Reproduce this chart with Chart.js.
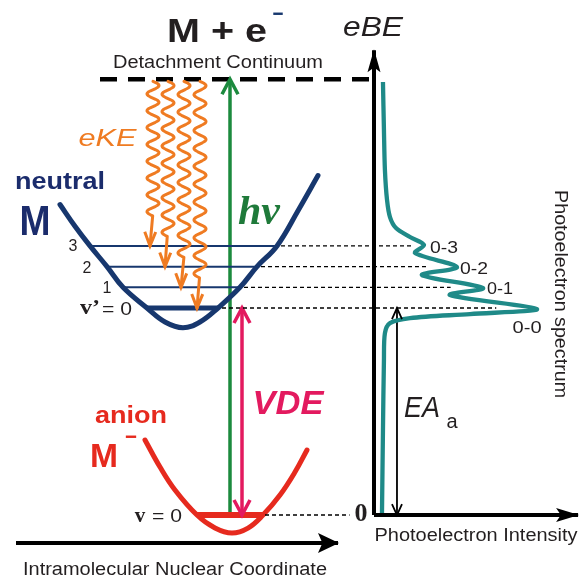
<!DOCTYPE html>
<html><head><meta charset="utf-8">
<script src="https://cdn.jsdelivr.net/npm/chart.js@4.4.1/dist/chart.umd.min.js"></script>
<style>html,body{margin:0;padding:0;background:#fff;overflow:hidden}canvas{display:block}</style>
</head><body>
<canvas id="c" width="579" height="579"></canvas>
<script>
// ---------------- data (nuclear coordinate Q, binding energy E, intensity I) ----------------
const neutralQ = [-1.23,-1.08,-0.93,-0.76,-0.60,-0.36,-0.18,0.00,0.17,0.35,0.57,0.74,0.94,1.15,1.35];
const neutralE = [3.00,2.79,2.60,2.40,2.20,2.00,1.865,1.81,1.865,2.00,2.20,2.40,2.60,2.94,3.28];
const anionQ = [-0.38,-0.23,-0.08,0.14,0.32,0.49,0.65,0.80,0.97,1.12,1.24];
const anionE = [0.725,0.464,0.242,0.00,-0.126,-0.174,-0.126,0.00,0.193,0.415,0.628];
const levelE = [2.0, 2.2, 2.4, 2.6];              // v' = 0,1,2,3
const levelLeftQ = [-0.36, -0.60, -0.76, -0.93];
const levelRightQ = [0.35, 0.57, 0.74, 0.94];
const levelLabels = ["= 0", "1", "2", "3"];
const anionLevelE = 0;
const anionLevelQ = [0.14, 0.80];
const continuumE = 4.21;
const continuumQ = [-0.83, 1.89];
const photonQ = 0.47;
const vdeQ = 0.59;
const ekeQ = [0.14, -0.02, -0.18, -0.33];          // eKE arrows ending on v' = 0..3
const specE = [4.184,3.720,3.333,3.043,2.879,2.773,2.686,2.609,2.531,2.396,2.319,2.193,2.126,1.990,1.942,1.903,1.855,1.758,1.498,0.821,0.019];
const specI = [0.055,0.061,0.067,0.080,0.098,0.135,0.221,0.307,0.252,0.509,0.294,0.669,0.466,1.000,0.589,0.221,0.098,0.067,0.061,0.055,0.049];
const peakLabels = ["0-0","0-1","0-2","0-3"];
const dropEndI = [0.75, 0.47, 0.33, 0.23];
const anionDropEndI = -0.15;
const eaI = 0.141;
const eBEAxisTopE = 4.49;
const intAxisEndI = 1.252;
const coordAxisQ = [-1.67, 1.55];
const coordAxisE = -0.27;

// ---------------- style ----------------
const NAVY = '#17376e', NAVYTXT = '#1b2c6c', RED = '#e62a1e', GREEN = '#1c8a3e', GREENTXT = '#1f7a3a';
const MAG = '#e31a5f', ORANGE = '#ef7b22', TEAL = '#1f8a88', INK = '#231f20';
const SANS = '"Liberation Sans", Arial, sans-serif', SERIF = '"Liberation Serif", "Times New Roman", serif';

const P = (xs, ys) => xs.map((x, i) => ({x, y: ys[i]}));
const seg = (x0, y0, x1, y1) => [{x: x0, y: y0}, {x: x1, y: y1}];

function line(data, color, width, extra) {
  return Object.assign({data, borderColor: color, borderWidth: width, xAxisID: 'q', yAxisID: 'e',
    showLine: true, pointRadius: 0, tension: 0, fill: false, clip: false, borderCapStyle: 'butt', borderJoinStyle: 'round'}, extra || {});
}

const datasets = [
  line(P(specI, specE), TEAL, 4.3, {xAxisID: 'int', tension: 0.3}),
  line(seg(0, 0, 0, eBEAxisTopE), '#000', 4, {xAxisID: 'int', arrow: {at: 'end', type: 'filled', len: 22, half: 6.5}}),
  line(seg(0, 0, intAxisEndI, 0), '#000', 4, {xAxisID: 'int', arrow: {at: 'end', type: 'filled', len: 22, half: 7}}),
  line(seg(eaI, levelE[0], eaI, anionLevelE), '#000', 1.8, {xAxisID: 'int', arrow: {at: 'both', type: 'open', len: 11, half: 5, lw: 1.8}}),
  line(seg(coordAxisQ[0], coordAxisE, coordAxisQ[1], coordAxisE), '#000', 4, {arrow: {at: 'end', type: 'filled', len: 20, half: 10}}),
  line(seg(anionLevelQ[0], anionLevelE, anionLevelQ[1], anionLevelE), RED, 6),
  line(P(anionQ, anionE), RED, 5, {tension: 0.4, borderCapStyle: 'round'}),
  line(P(neutralQ, neutralE), NAVY, 5, {tension: 0.4, borderCapStyle: 'round'}),
  ...levelE.map((e, k) => line(seg(levelLeftQ[k], e, levelRightQ[k], e), NAVY, k === 0 ? 5 : 2)),
  line(seg(vdeQ, levelE[0], vdeQ, anionLevelE), MAG, 3.5, {arrow: {at: 'both', type: 'open', len: 15, half: 8, lw: 3.5}}),
  line(seg(photonQ, anionLevelE, photonQ, continuumE), GREEN, 3.5, {arrow: {at: 'end', type: 'open', len: 15, half: 8, lw: 3.5}}),
  line(seg(continuumQ[0], continuumE, continuumQ[1], continuumE), '#000', 4.5, {borderDash: [17, 11]})
];

// text labels: anchored in data units (axis 'q' or 'int'), target width w stretches glyphs
const labels = [
  {t: 'M + e', x: 0.34, y: 4.657, f: 'bold 33px ' + SANS, w: 100},
  {t: '\u2212', x: 0.95, y: 4.831, f: 'bold 22px ' + SANS, w: 11, c: NAVY},
  {t: 'Detachment Continuum', x: 0.35, y: 4.367, f: '17.5px ' + SANS, w: 210},
  {t: 'eKE', x: -0.755, y: 3.623, f: 'italic 23px ' + SANS, w: 58, c: ORANGE},
  {t: 'neutral', x: -1.23, y: 3.217, f: 'bold 24px ' + SANS, w: 90, c: NAVYTXT},
  {t: 'M', x: -1.48, y: 2.821, f: 'bold 42px ' + SANS, w: 31, c: NAVYTXT},
  {t: levelLabels[3], x: -1.10, y: 2.589, f: '16px ' + SANS},
  {t: levelLabels[2], x: -0.96, y: 2.377, f: '16px ' + SANS},
  {t: levelLabels[1], x: -0.76, y: 2.184, f: '16px ' + SANS},
  {t: 'v\u2019', x: -0.93, y: 1.990, f: 'bold 21px ' + SERIF, w: 20},
  {t: levelLabels[0], x: -0.66, y: 1.981, f: '17.5px ' + SANS, w: 30},
  {t: 'hv', x: 0.76, y: 2.908, f: 'bold italic 40px ' + SERIF, w: 42, c: GREENTXT},
  {t: 'VDE', x: 1.05, y: 1.063, f: 'bold italic 33px ' + SANS, w: 71, c: MAG},
  {t: 'anion', x: -0.52, y: 0.957, f: 'bold 24px ' + SANS, w: 72, c: RED},
  {t: 'M', x: -0.79, y: 0.551, f: 'bold 33px ' + SANS, w: 28, c: RED},
  {t: '\u2212', x: -0.52, y: 0.744, f: 'bold 22px ' + SANS, w: 12, c: RED},
  {t: 'v', x: -0.43, y: -0.019, f: 'bold 21px ' + SERIF},
  {t: '= 0', x: -0.16, y: -0.019, f: '17.5px ' + SANS, w: 30},
  {t: '0', a: 'int', x: -0.08, y: 0.01, f: 'bold 26px ' + SERIF},
  {t: 'Intramolecular Nuclear Coordinate', x: -0.08, y: -0.531, f: '18px ' + SANS, w: 304},
  {t: 'eBE', a: 'int', x: -0.006, y: 4.705, f: 'italic 28px ' + SANS, w: 60},
  {t: peakLabels[3], a: 'int', x: 0.429, y: 2.580, f: '17px ' + SANS, w: 28},
  {t: peakLabels[2], a: 'int', x: 0.613, y: 2.377, f: '17px ' + SANS, w: 28},
  {t: peakLabels[1], a: 'int', x: 0.773, y: 2.184, f: '17px ' + SANS, w: 26},
  {t: peakLabels[0], a: 'int', x: 0.939, y: 1.807, f: '17px ' + SANS, w: 29},
  {t: 'EA', a: 'int', x: 0.294, y: 1.024, f: 'italic 30px ' + SANS, w: 36},
  {t: 'a', a: 'int', x: 0.479, y: 0.899, f: '20px ' + SANS},
  {t: 'Photoelectron spectrum', a: 'int', x: 1.141, y: 2.135, f: '17.5px ' + SANS, w: 208, rot: Math.PI / 2},
  {t: 'Photoelectron Intensity', a: 'int', x: 0.626, y: -0.203, f: '17.5px ' + SANS, w: 203}
];

function head(ctx, tip, from, spec, color) {
  const dx = tip.x - from.x, dy = tip.y - from.y, d = Math.hypot(dx, dy) || 1;
  const ux = dx / d, uy = dy / d, nx = -uy, ny = ux;
  const bx = tip.x - ux * spec.len, by = tip.y - uy * spec.len;
  ctx.save();
  if (spec.type === 'filled') {
    ctx.fillStyle = color;
    ctx.beginPath();
    ctx.moveTo(tip.x + ux * 1, tip.y + uy * 1);
    ctx.lineTo(bx + nx * spec.half, by + ny * spec.half);
    ctx.lineTo(tip.x - ux * spec.len * 0.78, tip.y - uy * spec.len * 0.78);
    ctx.lineTo(bx - nx * spec.half, by - ny * spec.half);
    ctx.closePath();
    ctx.fill();
  } else {
    ctx.strokeStyle = color; ctx.lineWidth = spec.lw || 3; ctx.lineJoin = 'miter'; ctx.lineCap = 'butt';
    ctx.beginPath();
    ctx.moveTo(bx + nx * spec.half, by + ny * spec.half);
    ctx.lineTo(tip.x, tip.y);
    ctx.lineTo(bx - nx * spec.half, by - ny * spec.half);
    ctx.stroke();
  }
  ctx.restore();
}

const overlay = {
  id: 'overlay',
  afterDatasetsDraw(chart) {
    const ctx = chart.ctx, q = chart.scales.q, it = chart.scales.int, e = chart.scales.e;
    // arrow heads on datasets
    chart.data.datasets.forEach((ds, i) => {
      if (!ds.arrow) return;
      const pts = chart.getDatasetMeta(i).data;
      const a = pts[pts.length - 1], b = pts[pts.length - 2];
      head(ctx, {x: a.x, y: a.y}, {x: b.x, y: b.y}, ds.arrow, ds.borderColor);
      if (ds.arrow.at === 'both') head(ctx, {x: pts[0].x, y: pts[0].y}, {x: pts[1].x, y: pts[1].y}, ds.arrow, ds.borderColor);
    });
    // dashed drop lines from neutral levels to spectral peaks
    ctx.save();
    ctx.strokeStyle = '#000'; ctx.lineWidth = 1.4; ctx.setLineDash([4, 3]);
    levelE.forEach((en, k) => {
      const y = e.getPixelForValue(en);
      ctx.beginPath();
      ctx.moveTo(q.getPixelForValue(levelRightQ[k]) + 4, y);
      ctx.lineTo(it.getPixelForValue(dropEndI[k]), y);
      ctx.stroke();
    });
    const ya = e.getPixelForValue(anionLevelE);
    ctx.beginPath();
    ctx.moveTo(q.getPixelForValue(anionLevelQ[1]) + 2, ya);
    ctx.lineTo(it.getPixelForValue(anionDropEndI), ya);
    ctx.stroke();
    ctx.restore();
    // wavy eKE arrows
    ctx.save();
    ctx.strokeStyle = ORANGE; ctx.lineWidth = 3; ctx.lineJoin = 'round'; ctx.lineCap = 'round';
    ekeQ.forEach((qq, k) => {
      const xc = q.getPixelForValue(qq) + 3;
      const y0 = e.getPixelForValue(continuumE) + 2;
      const yTip = e.getPixelForValue(levelE[k]);
      const y1 = yTip - 30;
      const n = Math.max(1, Math.round((y1 - y0) / 17.5));
      const per = (y1 - y0) / n, A = 6;
      ctx.beginPath();
      for (let y = y0; y <= y1 + 0.01; y += 0.5) {
        const x = xc + A * Math.sin(2 * Math.PI * (y - y0) / per);
        if (y === y0) ctx.moveTo(x, y); else ctx.lineTo(x, y);
      }
      ctx.lineTo(xc - 3, yTip);
      ctx.stroke();
      head(ctx, {x: xc - 3, y: yTip}, {x: xc - 2.5, y: y1}, {type: 'open', len: 14, half: 5.5, lw: 3}, ORANGE);
    });
    ctx.restore();
    // text
    labels.forEach(L => {
      const xs = L.a === 'int' ? it : q;
      ctx.save();
      ctx.font = L.f;
      ctx.fillStyle = L.c || INK;
      ctx.textAlign = 'center'; ctx.textBaseline = 'middle';
      ctx.translate(xs.getPixelForValue(L.x), e.getPixelForValue(L.y));
      if (L.rot) ctx.rotate(L.rot);
      if (L.w) { const m = ctx.measureText(L.t).width; ctx.scale(L.w / m, 1); }
      ctx.fillText(L.t, 0, 0);
      ctx.restore();
    });
  }
};

new Chart(document.getElementById('c'), {
  type: 'scatter',
  data: {datasets},
  options: {
    responsive: false, animation: false, devicePixelRatio: 1, events: [],
    layout: {padding: 0},
    plugins: {legend: {display: false}, tooltip: {enabled: false}, title: {display: false}},
    scales: {
      q: {type: 'linear', axis: 'x', position: 'bottom', display: false, min: -1.83, max: 3.96},
      int: {type: 'linear', axis: 'x', position: 'bottom', display: false, min: -2.2945, max: 1.2577},
      e: {type: 'linear', axis: 'y', position: 'left', display: false, min: -0.618, max: 4.976}
    }
  },
  plugins: [overlay]
});
</script>
</body></html>
